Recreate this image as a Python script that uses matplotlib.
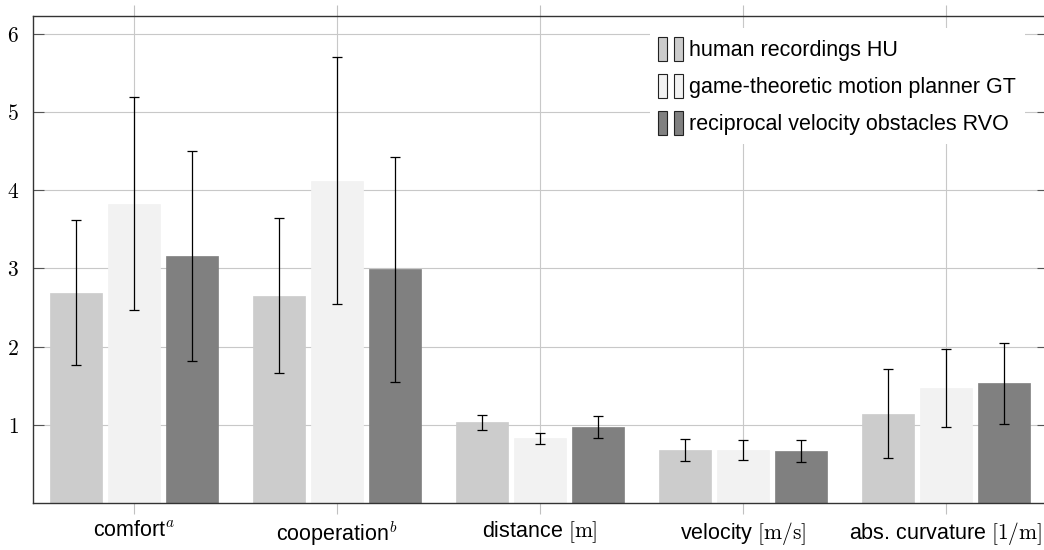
import numpy as np
import matplotlib
matplotlib.use('Agg')
import matplotlib.pyplot as plt
from matplotlib.patches import Rectangle
from matplotlib.legend_handler import HandlerTuple

plt.rcParams['font.family'] = ['Liberation Sans', 'DejaVu Sans']
plt.rcParams['mathtext.fontset'] = 'cm'

# Evaluation metrics: mean and standard deviation per method
categories = ['comfort$^a$', 'cooperation$^b$', r'distance $[\mathrm{m}]$',
              r'velocity $[\mathrm{m/s}]$', r'abs. curvature $[1/\mathrm{m}]$']
hu_mean = [2.69, 2.65, 1.03, 0.68, 1.14]
hu_std = [0.93, 0.99, 0.10, 0.14, 0.57]
gt_mean = [3.83, 4.12, 0.83, 0.68, 1.47]
gt_std = [1.36, 1.58, 0.07, 0.13, 0.50]
rvo_mean = [3.16, 2.99, 0.97, 0.67, 1.53]
rvo_std = [1.34, 1.44, 0.14, 0.14, 0.52]
yticks = [1, 2, 3, 4, 5, 6]

labels = ['human recordings HU', 'game-theoretic motion planner GT',
          'reciprocal velocity obstacles RVO']
colors = ['#cccccc', '#f2f2f2', '#808080']

fig = plt.figure(figsize=(10.44, 5.5), dpi=100)
ax = fig.add_axes([32.5 / 1044, 1 - 503 / 550, 1015 / 1044, 487 / 550])

x = np.arange(len(categories))
width = 0.26
offset = 0.286
series = [(hu_mean, hu_std), (gt_mean, gt_std), (rvo_mean, rvo_std)]
for i, (mean, std) in enumerate(series):
    ax.bar(x + (i - 1) * offset, mean, width, color=colors[i],
           edgecolor=colors[i], linewidth=0.5, zorder=2)
    ax.errorbar(x + (i - 1) * offset, mean, yerr=std, fmt='none',
                ecolor='black', elinewidth=0.9, capsize=3.6, capthick=0.9,
                zorder=3)

ax.set_xlim(-0.5, 4.5)
ax.set_ylim(0, 6.23)
ax.set_xticks(x)
ax.set_xticklabels(categories, fontsize=15.5)
ax.set_yticks(yticks)
ax.set_yticklabels(['$%d$' % t for t in yticks], fontsize=15.5)

ax.grid(True, color='#c8c8c8', linewidth=0.8, zorder=0)
ax.set_axisbelow(True)
for s in ax.spines.values():
    s.set_color('#333333')
    s.set_linewidth(1.0)
ax.tick_params(axis='y', direction='in', length=8, width=0.8,
               color='#555555', right=True, pad=10)
ax.tick_params(axis='x', direction='out', length=8, width=0.8,
               color='#c0c0c0', top=True, pad=4)

# legend with two small bars per entry
handles = [(Rectangle((0, 0), 1, 1, facecolor=c, edgecolor='#222222', linewidth=0.8),
            Rectangle((0, 0), 1, 1, facecolor=c, edgecolor='#222222', linewidth=0.8))
           for c in colors]
leg = ax.legend(handles, labels, handler_map={tuple: HandlerTuple(ndivide=None, pad=0.33)},
                loc='upper left', bbox_to_anchor=(0.608, 0.975), fontsize=15.5,
                handlelength=1.15, handleheight=1.35, handletextpad=0.3,
                labelspacing=0.6, borderpad=0.4, borderaxespad=0,
                frameon=True, fancybox=False, framealpha=1)
leg.get_frame().set_edgecolor('none')
leg.get_frame().set_facecolor('white')

fig.savefig('out.png', dpi=100)
